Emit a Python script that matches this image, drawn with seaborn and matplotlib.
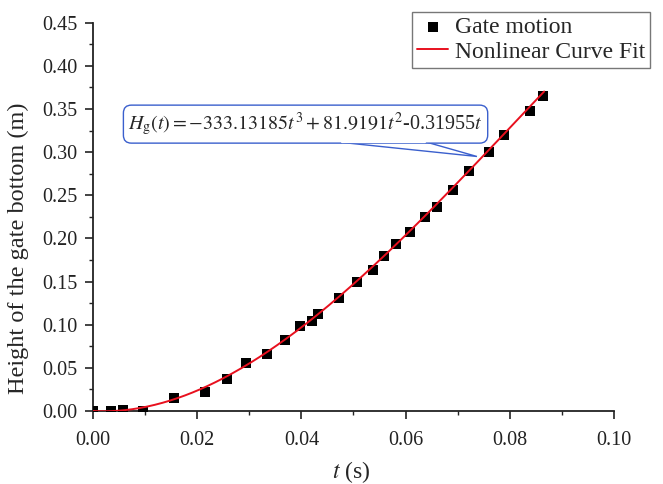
import numpy as np
import pandas as pd
import matplotlib
matplotlib.use("Agg")
import matplotlib.pyplot as plt
from matplotlib.patches import Polygon
from matplotlib.ticker import MultipleLocator
import seaborn as sns

# measured gate motion
t_data = [0.0, 0.0035, 0.0058, 0.0096, 0.0155, 0.0215, 0.0257, 0.0294, 0.0334,
          0.0369, 0.0397, 0.0420, 0.0432, 0.0473, 0.0507, 0.0537, 0.0559, 0.0582,
          0.0608, 0.0637, 0.0660, 0.0691, 0.0722, 0.0760, 0.0789, 0.0839, 0.0864]
h_data = [0.0, 0.0, 0.001, 0.0, 0.015, 0.022, 0.037, 0.056, 0.066,
          0.082, 0.098, 0.104, 0.113, 0.131, 0.149, 0.164, 0.180, 0.194,
          0.208, 0.225, 0.237, 0.256, 0.278, 0.300, 0.320, 0.348, 0.365]

# fitted cubic coefficients (from the annotation)
coef_a3 = -333.13185
coef_a2 = 81.9191
coef_a1 = -0.31955
fit_t_start, fit_t_end = 0.0, 0.0866

x_ticks = [0.00, 0.02, 0.04, 0.06, 0.08, 0.10]
y_ticks = [0.00, 0.05, 0.10, 0.15, 0.20, 0.25, 0.30, 0.35, 0.40, 0.45]

sns.set_theme(style="ticks")
plt.rcParams['font.family'] = ['Liberation Serif', 'DejaVu Serif']
plt.rcParams['mathtext.fontset'] = 'stix'

fig = plt.figure(figsize=(6.63, 4.84), dpi=100)
ax = fig.add_axes([0.1403, 0.1508, 0.7857, 0.8022])

df = pd.DataFrame({"t": t_data, "h": h_data})
t_fit = np.linspace(fit_t_start, fit_t_end, 300)
h_fit = coef_a3 * t_fit**3 + coef_a2 * t_fit**2 + coef_a1 * t_fit
dfit = pd.DataFrame({"t": t_fit, "h": h_fit})

sns.scatterplot(data=df, x="t", y="h", marker="s", s=42, color="black",
                edgecolor="black", linewidth=0, ax=ax, label="Gate motion", zorder=3)
sns.lineplot(data=dfit, x="t", y="h", color="#e8101e", linewidth=1.4, ax=ax,
             label="Nonlinear Curve Fit", zorder=4)

ax.set_xlim(0, 0.10)
ax.set_ylim(0, 0.45)
ax.set_xticks(x_ticks)
ax.set_yticks(y_ticks)
ax.set_xticklabels([f"{v:.2f}" for v in x_ticks])
ax.set_yticklabels([f"{v:.2f}" for v in y_ticks])
ax.xaxis.set_minor_locator(MultipleLocator(0.01))
ax.yaxis.set_minor_locator(MultipleLocator(0.025))
ax.tick_params(which='major', direction='out', length=5.5, width=1.2, labelsize=14.5,
               colors='#222222')
ax.tick_params(axis='x', which='major', pad=9)
ax.tick_params(axis='y', which='major', pad=6)
ax.tick_params(which='minor', direction='out', length=3, width=1.0, colors='#222222')
for s in ['top', 'right']:
    ax.spines[s].set_visible(False)
for s in ['left', 'bottom']:
    ax.spines[s].set_linewidth(1.3)
    ax.spines[s].set_color('#222222')

ax.set_xlabel("$t$ (s)", fontsize=17)
ax.set_ylabel("Height of the gate bottom (m)", fontsize=17.5)
ax.xaxis.set_label_coords(0.495, -0.123)
ax.yaxis.set_label_coords(-0.122, 0.42)

# legend
handles, labels = ax.get_legend_handles_labels()
leg = ax.legend(handles, labels, loc='upper right', bbox_to_anchor=(0.981, 0.976),
                bbox_transform=fig.transFigure, fontsize=17, frameon=True,
                fancybox=False, edgecolor='#555555', borderpad=0.22,
                handlelength=1.3, handletextpad=0.3, labelspacing=0.12,
                borderaxespad=0)
leg.get_frame().set_linewidth(1.0)

# callout annotation
poly = Polygon([[0.0474, 0.3115], [0.0737, 0.295], [0.0641, 0.3115]], closed=True,
               facecolor='white', edgecolor='#3a5fcd', linewidth=1.0, zorder=5)
ax.add_patch(poly)
ax.text(0.0408, 0.3325,
        r"$H_{\rm g}(t) = -333.13185t^3 + 81.9191t^2$-0.31955$t$",
        fontsize=14.4, ha='center', va='center', zorder=6,
        bbox=dict(boxstyle='round,pad=0.25,rounding_size=0.4', facecolor='white',
                  edgecolor='#3a5fcd', linewidth=1.0))
# cover the box edge between the callout legs
ax.plot([0.0478, 0.0637], [0.3118, 0.3118], color='white', linewidth=1.6, zorder=7)

fig.savefig("out.png", dpi=100)
